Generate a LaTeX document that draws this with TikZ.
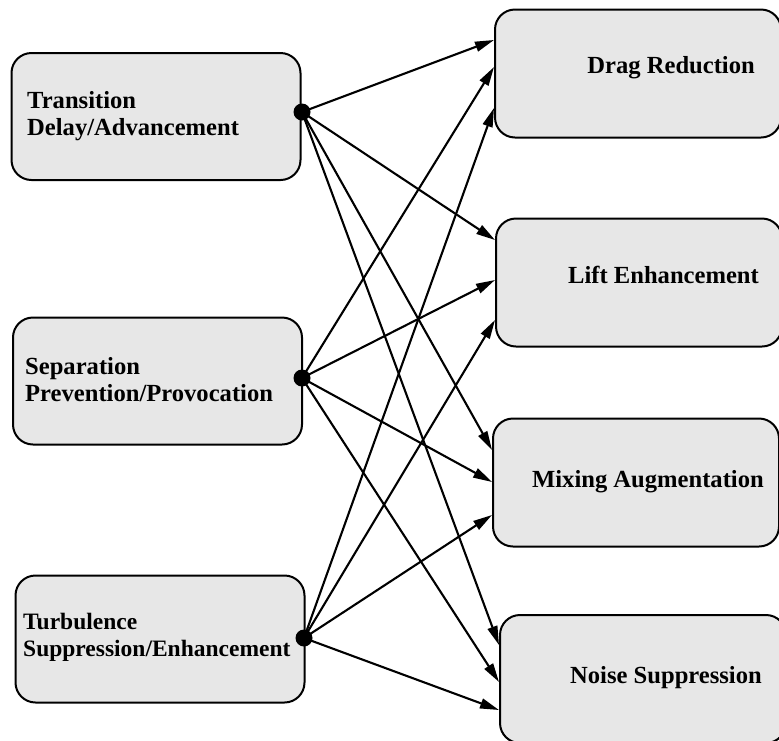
\documentclass[tikz,border=0pt]{standalone}
\usepackage{fontspec}
\setmainfont{Liberation Serif}
\usetikzlibrary{arrows.meta}
\definecolor{boxgray}{gray}{0.905}
\begin{document}
\begin{tikzpicture}[x=1pt,y=-1pt,
  box/.style={draw=black, line width=2pt, fill=boxgray, rounded corners=20pt, inner sep=0pt},
  lbox/.style={box, minimum width=289pt, minimum height=127pt},
  rbox/.style={box, minimum width=286pt, minimum height=128pt},
  lbl/.style={font=\fontsize{24.6}{27}\selectfont\bfseries, inner sep=0pt, align=left},
  dot/.style={circle, fill=black, inner sep=0pt, minimum size=17pt},
  link/.style={line width=2.1pt, -{Triangle[length=19pt,width=10pt]}}
]
\useasboundingbox (0,0) rectangle (779,740);

% control mechanisms (left column)
\node[lbox] (trans) at (156,116.5) {};
\node[lbox] (sep)   at (157.5,381) {};
\node[lbox] (turb)  at (160,639) {};
\node[lbl, anchor=west] (transtxt) at (27,116) {Transition\\Delay/Advancement};
\node[lbl, anchor=west] (septxt)   at (25,380) {Separation\\Prevention/Provocation};
\node[lbl, anchor=west, font=\fontsize{23.5}{27}\selectfont\bfseries] (turbtxt) at (23,637) {Turbulence\\Suppression/Enhancement};

% flow goals (right column)
\node[rbox] (drag)  at (638,73.5) {};
\node[rbox] (lift)  at (639,282.5) {};
\node[rbox] (mix)   at (636,482.5) {};
\node[rbox] (noise) at (643,679) {};
\node[lbl, anchor=base east] (dragtxt)  at (755,73)  {Drag Reduction};
\node[lbl, anchor=base east] (lifttxt)  at (759,283) {Lift Enhancement};
\node[lbl, anchor=base east] (mixtxt)   at (764,487) {Mixing Augmentation};
\node[lbl, anchor=base east] (noisetxt) at (762,683) {Noise Suppression};

% junction dots on the left boxes
\node[dot] (tdot) at (302,112) {};
\node[dot] (sdot) at (302,378) {};
\node[dot] (udot) at (304,638) {};

% connections
\draw[link] (tdot.center) -- (drag.west  |- 0,40);
\draw[link] (tdot.center) -- (lift.west  |- 0,240);
\draw[link] (tdot.center) -- (mix.west   |- 0,450);
\draw[link] (tdot.center) -- (noise.west |- 0,645);

\draw[link] (sdot.center) -- (drag.west  |- 0,67);
\draw[link] (sdot.center) -- (lift.west  |- 0,280);
\draw[link] (sdot.center) -- (mix.west   |- 0,482);
\draw[link] (sdot.center) -- (noise.west |- 0,682);

\draw[link] (udot.center) -- (drag.west  |- 0,108);
\draw[link] (udot.center) -- (lift.west  |- 0,320);
\draw[link] (udot.center) -- (mix.west   |- 0,515);
\draw[link] (udot.center) -- (noise.west |- 0,710);
\end{tikzpicture}
\end{document}
